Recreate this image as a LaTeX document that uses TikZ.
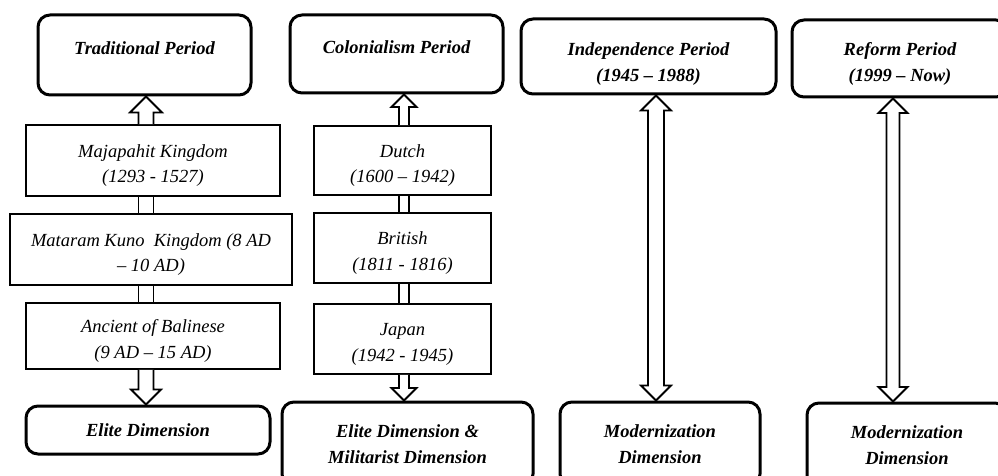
\documentclass[tikz,border=0pt]{standalone}
\usepackage{fontspec}
\setmainfont{Liberation Serif}
\usetikzlibrary{calc}

% block arrows between two named nodes, along the axis given by a coordinate
% #1 first node, #2 second node, #3 axis, #4 shaft half width, #5 head half width
\newcommand{\uparr}[5]{%
  \draw[blockarr] let \p1=(#1.north -| #3), \p2=(#2.south -| #3) in
    (\x1-#4pt,\y1) -- (\x1-#4pt,\y2-#5pt) -- (\x1-#5pt,\y2-#5pt) -- (\x1,\y2)
    -- (\x1+#5pt,\y2-#5pt) -- (\x1+#4pt,\y2-#5pt) -- (\x1+#4pt,\y1);}
\newcommand{\downarr}[5]{%
  \draw[blockarr] let \p1=(#1.south -| #3), \p2=(#2.north -| #3) in
    (\x1-#4pt,\y1) -- (\x1-#4pt,\y2+#5pt) -- (\x1-#5pt,\y2+#5pt) -- (\x1,\y2)
    -- (\x1+#5pt,\y2+#5pt) -- (\x1+#4pt,\y2+#5pt) -- (\x1+#4pt,\y1);}
\newcommand{\dblarr}[5]{%
  \draw[blockarr] let \p1=(#1.north -| #3), \p2=(#2.south -| #3) in
    (\x1,\y1) -- (\x1-#5pt,\y1+#5pt) -- (\x1-#4pt,\y1+#5pt) -- (\x1-#4pt,\y2-#5pt)
    -- (\x1-#5pt,\y2-#5pt) -- (\x1,\y2) -- (\x1+#5pt,\y2-#5pt) -- (\x1+#4pt,\y2-#5pt)
    -- (\x1+#4pt,\y1+#5pt) -- (\x1+#5pt,\y1+#5pt) -- cycle;}
\newcommand{\shaft}[4]{%
  \draw[blockarr] let \p1=(#1.south -| #3), \p2=(#2.north -| #3) in
    (\x1-#4pt,\y1) -- (\x1-#4pt,\y2) (\x1+#4pt,\y1) -- (\x1+#4pt,\y2);}

\begin{document}
\begin{tikzpicture}[x=1pt, y=-1pt,
      txt/.style = {font=\fontsize{18.5}{25.5}\selectfont\itshape, align=center, inner sep=2pt},
      period/.style = {txt, draw, line width=3pt, rounded corners=12pt, font=\fontsize{18.5}{25.5}\selectfont\bfseries\itshape},
      single/.style = {text height=12.5pt, text depth=14pt},
      textdrop/.style = {text height=#1, text depth=0pt},
      era/.style = {txt, draw, line width=1.8pt, textdrop=44pt},
      blockarr/.style = {draw, line width=1.8pt, fill=white, line join=miter}]
    \useasboundingbox (0,0) rectangle (998,476);
    \clip (0,0) rectangle (998,476);

    % axes of the arrows
    \coordinate (c1) at (146,0);
    \coordinate (c2) at (404,0);
    \coordinate (c3) at (656,0);
    \coordinate (c4) at (893,0);

    % traditional period
    \node[period, single, minimum width=213pt, minimum height=80pt] (trad) at (144.5,55) {Traditional Period};
    \node[era, minimum width=254pt, minimum height=71pt] (maja) at (153,160.5) {Majapahit Kingdom\\(1293 - 1527)};
    \node[era, minimum width=282pt, minimum height=71pt] (mata) at (151,249.5) {Mataram Kuno~ Kingdom (8 AD\\– 10 AD)};
    \node[era, minimum width=254pt, minimum height=66pt] (anci) at (153,336) {Ancient of Balinese\\(9 AD – 15 AD)};
    \node[period, minimum width=244pt, minimum height=48pt] (elite) at (148,430) {Elite Dimension};

    % colonialism period
    \node[period, single, minimum width=213pt, minimum height=78pt] (colo) at (396.5,54) {Colonialism Period};
    \node[era, minimum width=177pt, minimum height=69pt] (dutch) at (402.5,160.5) {Dutch\\(1600 – 1942)};
    \node[era, minimum width=177pt, minimum height=70pt] (brit) at (402.5,248) {British\\(1811 - 1816)};
    \node[era, minimum width=177pt, minimum height=70pt] (japan) at (402.5,339) {Japan\\(1942 - 1945)};
    \node[period, minimum width=251pt, minimum height=84pt] (elmil) at (407.5,444) {Elite Dimension \&\\Militarist Dimension};

    % independence and reform periods
    \node[period, textdrop=50pt, minimum width=255pt, minimum height=75pt] (indep) at (648.5,56.5) {Independence Period\\(1945 – 1988)};
    \node[period, minimum width=200pt, minimum height=84pt] (mod1) at (660,444) {Modernization\\Dimension};
    \node[period, textdrop=46pt, minimum width=216pt, minimum height=77pt] (reform) at (900,58.5) {Reform Period\\(1999 – Now)};
    \node[period, minimum width=200pt, minimum height=84pt] (mod2) at (907,445) {Modernization\\Dimension};

    % arrows
    \uparr{maja}{trad}{c1}{7.5}{16}
    \shaft{maja}{mata}{c1}{7.5}
    \shaft{mata}{anci}{c1}{7.5}
    \downarr{anci}{elite}{c1}{7.5}{15}

    \uparr{dutch}{colo}{c2}{5}{12.5}
    \shaft{dutch}{brit}{c2}{5}
    \shaft{brit}{japan}{c2}{5}
    \downarr{japan}{elmil}{c2}{5}{12.5}

    \dblarr{mod1}{indep}{c3}{8}{15}
    \dblarr{mod2}{reform}{c4}{6.5}{14.5}
  \end{tikzpicture}
\end{document}
